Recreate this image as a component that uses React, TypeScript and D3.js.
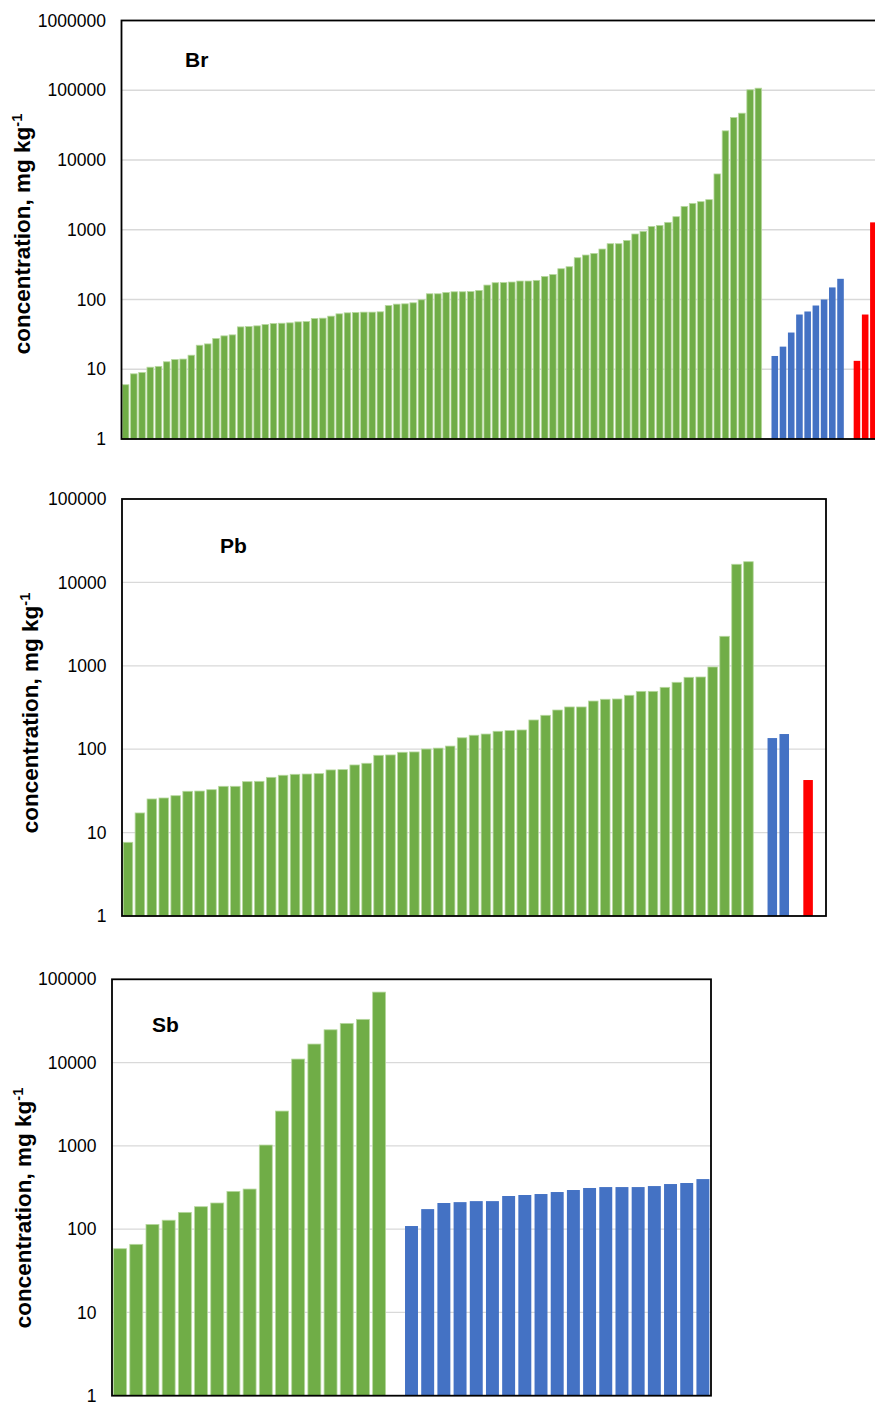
import React, { useRef, useEffect } from "react";
import * as d3 from "d3";

// Br, mg/kg, sorted samples
const brGreen = [
  6.0, 8.6, 9.0, 10.7, 11.0, 12.8, 13.8, 14.0, 15.9, 22.1, 23.1, 27.6, 30.1,
  31.1, 40.5, 41.0, 41.9, 43.8, 45.2, 45.7, 46.3, 47.8, 48.3, 53.4, 54.0, 57.7,
  62.3, 64.4, 65.1, 65.9, 65.9, 66.6, 82, 85.8, 86.7, 89.7, 99, 120.8, 120.8,
  126, 129, 129, 130, 135, 161, 174, 175, 178, 184, 184, 188, 214, 228, 276,
  295, 397, 434, 458, 529, 631, 631, 703, 869, 948, 1117, 1155, 1276, 1539,
  2163, 2389, 2528, 2700, 6310, 26180, 40600, 46900, 101500, 107000,
];
const brBlue = [15.5, 21.1, 33.6, 60.9, 67.3, 82, 100, 149, 198];
const brRed = [13.2, 60.9, 1276];

// Pb
const pbGreen = [
  7.65, 17.2, 25.3, 26, 27.7, 31.3, 31.5, 32.7, 35.9, 35.9, 40.8, 41.2, 46,
  48.7, 50, 50.4, 50.9, 56.4, 56.9, 64.7, 67.8, 84.5, 85.3, 91.9, 92.7, 100.5,
  103, 109, 137, 147, 152, 164, 167, 170, 224, 255, 295, 321, 321, 378, 397,
  400, 443, 494, 494, 552, 634, 728, 734, 968, 2259, 16500, 17700,
];
const pbBlue = [136, 152];
const pbRed = [42.7];

// Sb
const sbGreen = [
  58.2, 65.7, 114, 128, 159, 186, 206, 284, 303, 1023, 2617, 11020, 16690,
  24760, 29560, 33040, 70200,
];
const sbBlue = [
  109, 174, 206, 211, 217, 217, 250, 257, 264, 279, 295, 312, 320, 320, 320,
  329, 348, 358, 399,
];

const ticks6 = [1, 10, 100, 1000, 10000, 100000, 1000000];
const ticks5 = [1, 10, 100, 1000, 10000, 100000];

const GREEN = "#70ad47";
const BLUE = "#4472c4";
const RED = "#ff0000";
const FONT = "'Liberation Sans', Arial, Helvetica, sans-serif";

// categorias: grupos separados por un hueco vacío
const makeSlots = (groups, trailing = 0) => {
  const out = [];
  groups.forEach(([values, color], gi) => {
    if (gi > 0) out.push({ key: `gap${gi}`, value: null, color });
    values.forEach((v, i) => out.push({ key: `${gi}-${i}`, value: v, color }));
  });
  for (let i = 0; i < trailing; i++)
    out.push({ key: `end${i}`, value: null, color: "none" });
  return out;
};

const charts = [
  {
    title: "Br",
    data: makeSlots([
      [brGreen, GREEN],
      [brBlue, BLUE],
      [brRed, RED],
    ]),
    ticks: ticks6,
    left: 121.5,
    right: 877.5,
    top: 20.5,
    bottom: 439,
    titleX: 185,
    titleY: 66.5,
    labelX: 29.5,
    labelY: 234,
  },
  {
    title: "Pb",
    data: makeSlots(
      [
        [pbGreen, GREEN],
        [pbBlue, BLUE],
        [pbRed, RED],
      ],
      1
    ),
    ticks: ticks5,
    left: 122,
    right: 826,
    top: 499,
    bottom: 916,
    titleX: 220,
    titleY: 553,
    labelX: 37.5,
    labelY: 713,
  },
  {
    title: "Sb",
    data: makeSlots([
      [sbGreen, GREEN],
      [sbBlue, BLUE],
    ]),
    ticks: ticks5,
    left: 112,
    right: 711,
    top: 979.3,
    bottom: 1395.7,
    titleX: 152,
    titleY: 1031.5,
    labelX: 30.7,
    labelY: 1208,
  },
];

const drawChart = (root, c) => {
  const g = root.append("g").style("font-family", FONT);

  const x = d3
    .scaleBand()
    .domain(c.data.map((d) => d.key))
    .range([c.left, c.right])
    .paddingInner(0.2)
    .paddingOuter(0.1);

  const y = d3
    .scaleLog()
    .domain([c.ticks[0], c.ticks[c.ticks.length - 1]])
    .range([c.bottom, c.top]);

  // Rejilla
  g.append("g")
    .selectAll("line")
    .data(c.ticks.slice(1, -1))
    .join("line")
    .attr("x1", c.left)
    .attr("x2", c.right)
    .attr("y1", (d) => y(d))
    .attr("y2", (d) => y(d))
    .attr("stroke", "#d9d9d9")
    .attr("stroke-width", 1.3);

  // Barras
  g.append("g")
    .selectAll("rect")
    .data(c.data.filter((d) => d.value !== null))
    .join("rect")
    .attr("x", (d) => x(d.key))
    .attr("y", (d) => y(d.value))
    .attr("width", x.bandwidth())
    .attr("height", (d) => c.bottom - y(d.value))
    .attr("fill", (d) => d.color)
    .attr("stroke", (d) => (d.color === GREEN ? "#b7d89f" : "none"))
    .attr("stroke-width", 0.8);

  // Marco
  g.append("rect")
    .attr("x", c.left)
    .attr("y", c.top)
    .attr("width", c.right - c.left)
    .attr("height", c.bottom - c.top)
    .attr("fill", "none")
    .attr("stroke", "#000")
    .attr("stroke-width", 1.8);

  // Eje Y
  const axis = g
    .append("g")
    .attr("transform", `translate(${c.left}, 0)`)
    .call(
      d3
        .axisLeft(y)
        .tickValues(c.ticks)
        .tickFormat(d3.format("d"))
        .tickSize(0)
        .tickPadding(15.5)
    );
  axis.select(".domain").remove();
  axis
    .selectAll("text")
    .attr("font-family", FONT)
    .attr("font-size", "17.5px")
    .attr("fill", "#000");

  // Título
  g.append("text")
    .attr("x", c.titleX)
    .attr("y", c.titleY)
    .attr("font-weight", "bold")
    .attr("font-size", "21px")
    .text(c.title);

  // Rótulo eje Y (girado)
  const lbl = g
    .append("text")
    .attr("transform", `translate(${c.labelX}, ${c.labelY}) rotate(-90)`)
    .attr("text-anchor", "middle")
    .attr("font-weight", "bold")
    .attr("font-size", "22.5px");
  lbl.append("tspan").text("concentration, mg kg");
  lbl
    .append("tspan")
    .text("-1")
    .attr("dy", "-0.55em")
    .attr("font-size", "14.5px");
};

export default function App() {
  const ref = useRef(null);

  useEffect(() => {
    const svg = d3.select(ref.current);
    svg.selectChildren().remove();
    charts.forEach((c) => drawChart(svg, c));
  }, []);

  return (
    <svg
      ref={ref}
      width={875}
      height={1402}
      style={{ position: "absolute", left: 0, top: 0, background: "#fff" }}
    />
  );
}
